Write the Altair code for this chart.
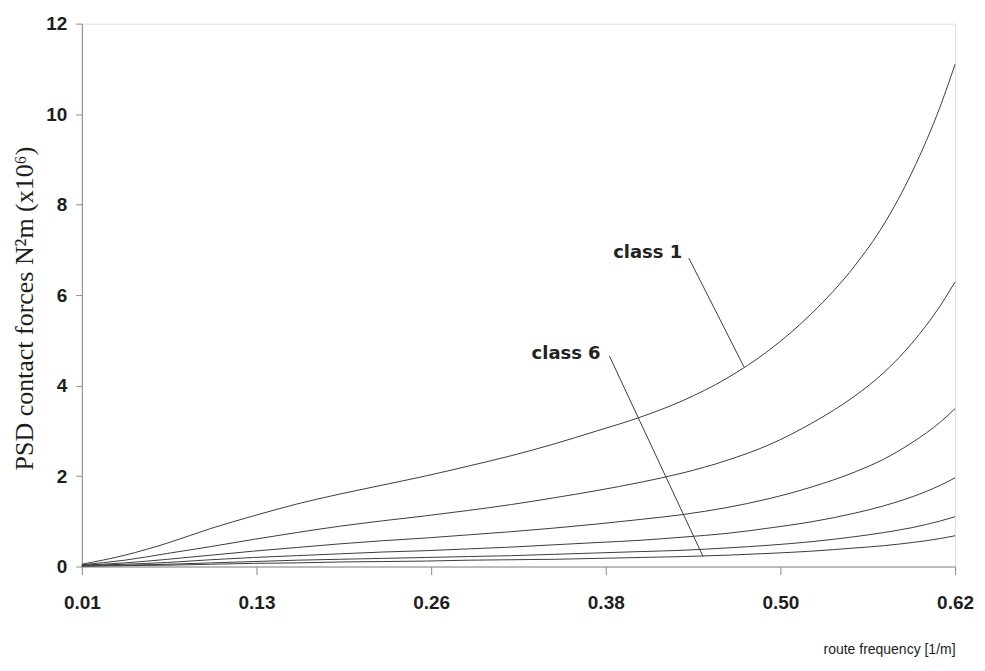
import altair as alt
import pandas as pd

# ---- data ----
freq = [0.01, 0.04, 0.07, 0.10, 0.13, 0.16, 0.19, 0.22, 0.25, 0.28, 0.31, 0.34,
        0.37, 0.40, 0.43, 0.46, 0.49, 0.52, 0.55, 0.57, 0.59, 0.61, 0.62]

class1 = [0.05, 0.25, 0.52, 0.84, 1.12, 1.38, 1.60, 1.80, 2.00, 2.22, 2.45, 2.71,
          3.00, 3.30, 3.67, 4.15, 4.78, 5.60, 6.65, 7.55, 8.72, 10.2, 11.1]
class2 = [0.04, 0.14, 0.29, 0.44, 0.60, 0.75, 0.89, 1.01, 1.12, 1.24, 1.37, 1.52,
          1.68, 1.86, 2.07, 2.34, 2.69, 3.17, 3.77, 4.28, 4.94, 5.78, 6.29]
class3 = [0.03, 0.08, 0.16, 0.25, 0.34, 0.42, 0.50, 0.57, 0.63, 0.70, 0.77, 0.85,
          0.94, 1.04, 1.15, 1.30, 1.50, 1.76, 2.09, 2.37, 2.74, 3.20, 3.49]
class4 = [0.02, 0.05, 0.09, 0.15, 0.20, 0.24, 0.28, 0.32, 0.35, 0.39, 0.43, 0.48,
          0.53, 0.58, 0.65, 0.73, 0.85, 0.99, 1.18, 1.34, 1.54, 1.80, 1.96]
class5 = [0.01, 0.03, 0.05, 0.08, 0.11, 0.14, 0.16, 0.18, 0.20, 0.22, 0.24, 0.27,
          0.30, 0.33, 0.36, 0.41, 0.47, 0.55, 0.66, 0.75, 0.86, 1.01, 1.10]
class6 = [0.01, 0.02, 0.03, 0.05, 0.07, 0.08, 0.10, 0.11, 0.12, 0.14, 0.15, 0.16,
          0.18, 0.20, 0.22, 0.25, 0.29, 0.34, 0.41, 0.46, 0.53, 0.62, 0.68]

series_names = ["class 1", "class 2", "class 3", "class 4", "class 5", "class 6"]
series_values = [class1, class2, class3, class4, class5, class6]

x_tick_labels = ["0.01", "0.13", "0.26", "0.38", "0.50", "0.62"]
y_tick_values = [0, 2, 4, 6, 8, 10, 12]

ann_labels = ["class 1", "class 6"]
ann_text_x = [0.4294, 0.3724]
ann_text_y = [6.93, 4.70]
ann_line_x = [0.434, 0.3786]
ann_line_y = [6.82, 4.65]
ann_line_x2 = [0.4726, 0.444]
ann_line_y2 = [4.41, 0.22]

# ---- tables ----
rows = []
for name, vals in zip(series_names, series_values):
    for f, v in zip(freq, vals):
        rows.append({"f": f, "v": v, "s": name})
df = pd.DataFrame(rows)

ann_df = pd.DataFrame({
    "label": ann_labels, "tx": ann_text_x, "ty": ann_text_y,
    "x": ann_line_x, "y": ann_line_y, "x2": ann_line_x2, "y2": ann_line_y2,
})

x_min, x_max = 0.01, 0.62
n = len(x_tick_labels)
step = (x_max - x_min) / (n - 1)
x_tick_values = [x_min + i * step for i in range(n)]
label_expr = ("[" + ",".join("'%s'" % l for l in x_tick_labels) + "]"
              + "[round((datum.value - %g) / %g)]" % (x_min, step))

SANS = "Liberation Sans, Arial, sans-serif"

x_scale = alt.Scale(domain=[x_min, x_max], nice=False, zero=False)
y_scale = alt.Scale(domain=[0, 12], nice=False)

x_axis = alt.Axis(
    values=x_tick_values, labelExpr=label_expr, title="route frequency [1/m]",
    grid=False, tickSize=8, labelPadding=19, labelFont=SANS, labelFontSize=19,
    labelFontWeight="bold", labelColor="#1e1e1e", domainColor="#8a8a8a",
    tickColor="#8a8a8a", titleFont=SANS, titleFontSize=14, titleFontWeight="normal",
    titleColor="#1e1e1e", titleX=875, titleY=83, titleAlign="right",
    titleBaseline="middle", labelFlush=False,
)
y_axis = alt.Axis(
    values=y_tick_values, title="PSD contact forces N²m (x10⁶)", grid=False,
    tickSize=6, labelPadding=9, labelFont=SANS, labelFontSize=19,
    labelFontWeight="bold", labelColor="#1e1e1e", domainColor="#8a8a8a",
    tickColor="#8a8a8a", titleFont="Liberation Serif, Times New Roman, serif",
    titleFontSize=26, titleFontWeight="normal", titleColor="#1e1e1e",
    titleX=-49, titleY=285, titleBaseline="alphabetic", titleAngle=270,
)

lines = alt.Chart(df).mark_line(color="#3c3c3c", strokeWidth=1,
                                interpolate="monotone").encode(
    x=alt.X("f:Q", scale=x_scale, axis=x_axis),
    y=alt.Y("v:Q", scale=y_scale, axis=y_axis),
    detail="s:N",
)

leaders = alt.Chart(ann_df).mark_rule(color="#3c3c3c", strokeWidth=1).encode(
    x=alt.X("x:Q", scale=x_scale), y=alt.Y("y:Q", scale=y_scale),
    x2="x2:Q", y2="y2:Q",
)

texts = alt.Chart(ann_df).mark_text(
    align="right", baseline="middle", font="DejaVu Sans", fontSize=18,
    fontWeight="bold", color="#222222",
).encode(
    x=alt.X("tx:Q", scale=x_scale), y=alt.Y("ty:Q", scale=y_scale), text="label:N",
)

chart = alt.layer(lines, leaders, texts).properties(
    width=875, height=544,
    autosize=alt.AutoSizeParams(type="none"),
    padding={"left": 74, "top": 15, "right": 22, "bottom": 95},
).configure_view(stroke=None).configure(background="white")

chart.save("out.html", embed_options={"renderer": "svg", "actions": False})
